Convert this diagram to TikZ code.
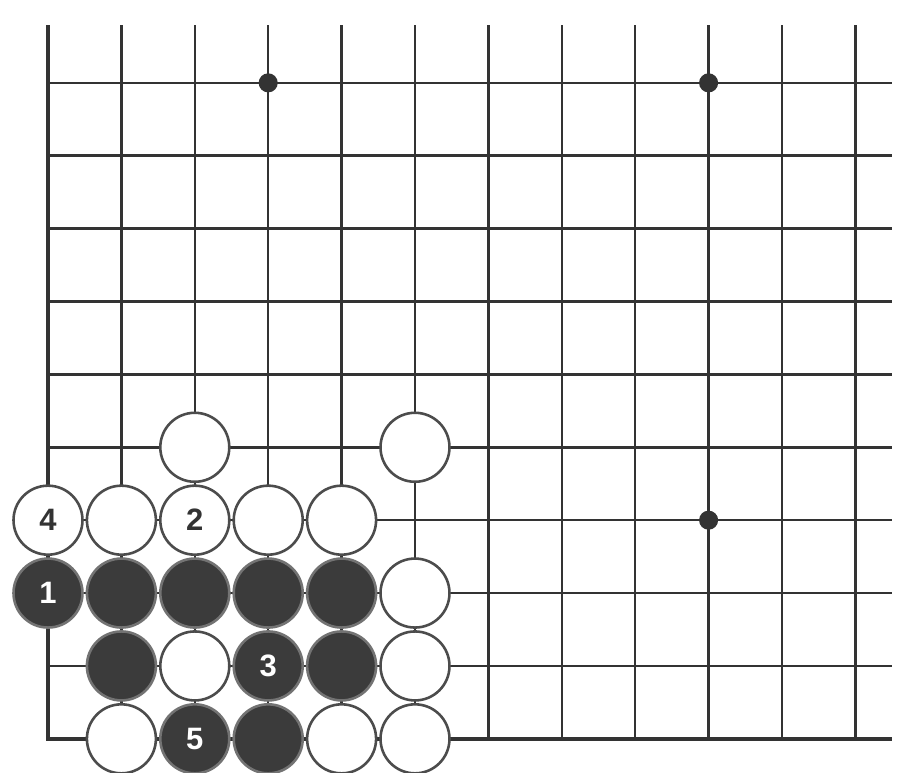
\documentclass[tikz,border=0pt]{standalone}
\usepackage{fontspec}
\setsansfont{Liberation Sans}
\usetikzlibrary{positioning}
\tikzset{
  gridline/.style={line width=1pt,black!80},
  edgeline/.style={line width=1.6pt,black!80},
  starpt/.style={circle,fill=black!80,minimum size=2.6mm,inner sep=0pt},
  stone/.style={circle,line width=1pt,minimum size=9.4mm,inner sep=0pt,
    font=\sffamily\bfseries\fontsize{12}{14}\selectfont},
  wstone/.style={stone,draw=black!70,fill=white,text=black!80},
  bstone/.style={stone,draw=black!55,fill=black!77,text=white}
}

\begin{document}
\begin{tikzpicture}[x=1cm,y=0.993cm]
\useasboundingbox[fill=white] (-0.654,-0.466) rectangle (11.594,10.137);

% Board lines, corner at lower left
\foreach \c in {1,...,11}
{
  \draw[gridline] (\c,0) -- (\c,9.79);
}
\foreach \r in {1,...,9}
{
  \draw[gridline] (0,\r) -- (11.5,\r);
}
\draw[edgeline] (0,9.79) -- (0,0) -- (11.5,0);

% Star points
\node[starpt] (st1) at (3,9) {};
\node[starpt] (st2) at (9,9) {};
\node[starpt] (st3) at (9,3) {};

% White stones
\node[wstone] (w1) at (2,4) {};
\node[wstone] (w2) at (5,4) {};
\node[wstone] (w3) at (0,3) {4};
\node[wstone] (w4) at (1,3) {};
\node[wstone] (w5) at (2,3) {2};
\node[wstone] (w6) at (3,3) {};
\node[wstone] (w7) at (4,3) {};
\node[wstone] (w8) at (5,2) {};
\node[wstone] (w9) at (2,1) {};
\node[wstone] (w10) at (5,1) {};
\node[wstone] (w11) at (1,0) {};
\node[wstone] (w12) at (4,0) {};
\node[wstone] (w13) at (5,0) {};

% Black stones
\node[bstone] (b1) at (0,2) {1};
\node[bstone] (b2) at (1,2) {};
\node[bstone] (b3) at (2,2) {};
\node[bstone] (b4) at (3,2) {};
\node[bstone] (b5) at (4,2) {};
\node[bstone] (b6) at (1,1) {};
\node[bstone] (b7) at (3,1) {3};
\node[bstone] (b8) at (4,1) {};
\node[bstone] (b9) at (2,0) {5};
\node[bstone] (b10) at (3,0) {};

\end{tikzpicture}
\end{document}
